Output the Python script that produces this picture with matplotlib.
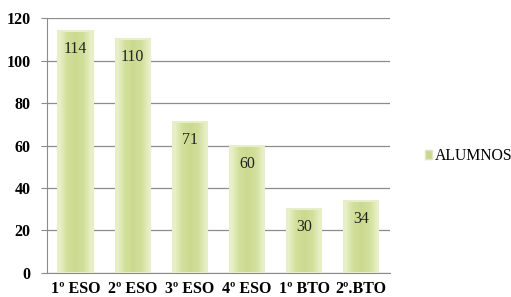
import numpy as np
import matplotlib
matplotlib.use('Agg')
import matplotlib.pyplot as plt
from matplotlib.patches import Patch
from matplotlib.colors import LinearSegmentedColormap

categories = ['1º ESO', '2º ESO', '3º ESO', '4º ESO', '1º BTO', '2º.BTO']
alumnos = [114, 110, 71, 60, 30, 34]
series_name = 'ALUMNOS'
yticks = [0, 20, 40, 60, 80, 100, 120]

plt.rcParams['font.family'] = ['Liberation Serif', 'DejaVu Serif']

fig = plt.figure(figsize=(5.11, 2.97), dpi=100)
ax = fig.add_axes([0.092, 0.081, 0.671, 0.858])

x = np.arange(len(categories))
width = 0.6
bars = ax.bar(x, alumnos, width=width, color='#d6e2a4', zorder=2)

# soft horizontal gradient inside every bar (lighter at the edges)
cmap = LinearSegmentedColormap.from_list('g', ['#eef3d2', '#d3e09c', '#cbd990', '#d3e09c', '#eef3d2'])
grad = np.linspace(0, 1, 64).reshape(1, -1)
for b in bars:
    x0, w, h = b.get_x(), b.get_width(), b.get_height()
    im = ax.imshow(grad, extent=[x0, x0 + w, 0, h], aspect='auto', cmap=cmap, zorder=3)
    im.set_clip_path(b)
    b.set_facecolor('none')
    ax.add_patch(plt.Rectangle((x0, 0), w, h, fill=False, ec='#e8efc8', lw=1.5, zorder=4))

for xi, v in zip(x, alumnos):
    ax.annotate(str(v), (xi, v), xytext=(0, -13), textcoords='offset points',
                ha='center', va='center', fontsize=11.5, color='#222222', zorder=5)

ax.set_xlim(-0.5, len(categories) - 0.5)
ax.set_ylim(0, 120)
ax.set_yticks(yticks)
ax.set_xticks(x)
ax.set_xticklabels(categories, fontsize=11.5, fontweight='bold')
ax.set_yticklabels([str(t) for t in yticks], fontsize=11.5, fontweight='bold')
ax.yaxis.grid(True, color='#8c8c8c', lw=0.9, zorder=1)
ax.set_axisbelow(True)
for s in ['top', 'right']:
    ax.spines[s].set_visible(False)
for s in ['left', 'bottom']:
    ax.spines[s].set_color('#8c8c8c')
ax.tick_params(axis='y', length=4, color='#8c8c8c', pad=8)
ax.tick_params(axis='x', length=0, pad=6)

handle = Patch(facecolor='#c8d690', edgecolor='#e0e8bb')
fig.legend([handle], [series_name], loc='center left', bbox_to_anchor=(0.831, 0.475),
           frameon=False, fontsize=11.3, handlelength=0.5, handleheight=0.5, handletextpad=0.15,
           borderaxespad=0, borderpad=0)

fig.savefig('out.png', dpi=100)
